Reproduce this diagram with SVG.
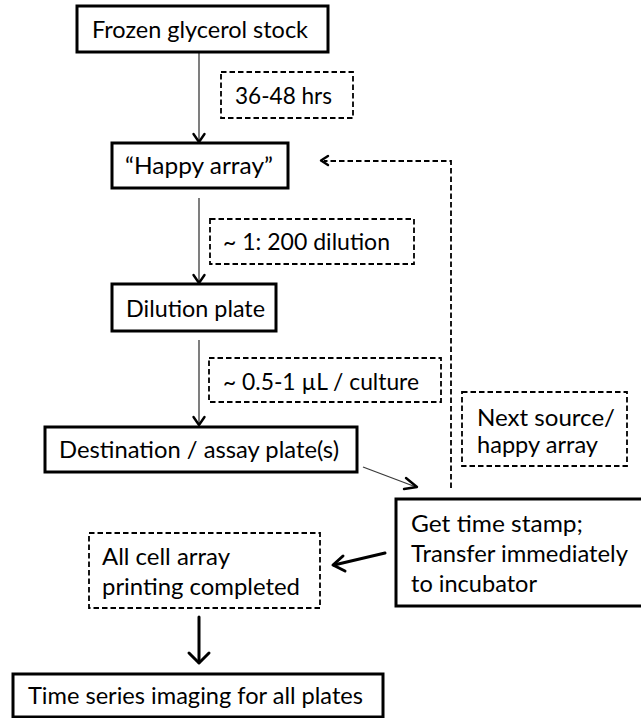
<svg xmlns="http://www.w3.org/2000/svg" width="641" height="718" viewBox="0 0 641 718">
<style>
.box{fill:#fff;stroke:#000;stroke-width:3}
.dbox{fill:#fff;stroke:#000;stroke-width:1.8;stroke-dasharray:5.5 3}
.t{font-family:Lato,"Open Sans","Liberation Sans",sans-serif;font-size:22.5px;fill:#000}
.ln{fill:none;stroke:#3a3a3a;stroke-width:1.3}
.hd{fill:none;stroke:#000;stroke-width:2.4;stroke-linecap:round;stroke-linejoin:round}
.thk{fill:none;stroke:#000;stroke-width:3;stroke-linecap:round;stroke-linejoin:round}
.dl{fill:none;stroke:#000;stroke-width:1.8;stroke-dasharray:5.5 3}
</style>
<rect width="641" height="718" fill="#fff"/>
<g id="connectors">
  <line class="ln" x1="199" y1="52" x2="199" y2="141"/>
  <polyline class="hd" points="193.5,134 199,142 204.5,134"/>
  <line class="ln" x1="199" y1="198" x2="199" y2="282"/>
  <polyline class="hd" points="193.5,275 199,283 204.5,275"/>
  <line class="ln" x1="199" y1="340" x2="199" y2="424"/>
  <polyline class="hd" points="193.5,417 199,425 204.5,417"/>
  <line class="ln" x1="363" y1="467" x2="416" y2="487"/>
  <polyline class="hd" points="406,478 417,487 404,489"/>
  <path class="dl" d="M451,488 V161 H324"/>
  <polyline class="hd" points="328,156 321,160.5 328,165"/>
  <line class="thk" x1="385" y1="553" x2="334" y2="565"/>
  <polyline class="thk" points="343,556 333,565 345,571"/>
  <line class="thk" x1="199" y1="617" x2="199" y2="662"/>
  <polyline class="thk" points="189,653 199,663 209,653"/>
</g>
<g id="n-frozen">
  <rect class="box" x="77" y="6" width="251" height="46"/>
  <text class="t" x="92" y="38" textLength="216" lengthAdjust="spacingAndGlyphs">Frozen glycerol stock</text>
</g>
<g id="n-36-48">
  <rect class="dbox" x="221" y="72" width="132" height="46"/>
  <text class="t" x="235" y="104" textLength="97" lengthAdjust="spacingAndGlyphs">36-48 hrs</text>
</g>
<g id="n-happy">
  <rect class="box" x="112" y="143" width="176" height="45"/>
  <text class="t" x="125" y="174" textLength="148" lengthAdjust="spacingAndGlyphs">“Happy array”</text>
</g>
<g id="n-dil-label">
  <rect class="dbox" x="210" y="219" width="204" height="45"/>
  <text class="t" x="223" y="250" textLength="167" lengthAdjust="spacingAndGlyphs">~ 1: 200 dilution</text>
</g>
<g id="n-dilution">
  <rect class="box" x="112" y="284" width="164" height="47"/>
  <text class="t" x="126" y="317" textLength="139" lengthAdjust="spacingAndGlyphs">Dilution plate</text>
</g>
<g id="n-vol-label">
  <rect class="dbox" x="209" y="358" width="232" height="44"/>
  <text class="t" x="223" y="390" textLength="196" lengthAdjust="spacingAndGlyphs">~ 0.5-1 µL / culture</text>
</g>
<g id="n-dest">
  <rect class="box" x="45" y="427" width="312" height="45"/>
  <text class="t" x="59" y="458" textLength="280" lengthAdjust="spacingAndGlyphs">Destination / assay plate(s)</text>
</g>
<g id="n-next">
  <rect class="dbox" x="462" y="392" width="165" height="74"/>
  <text class="t" x="477" y="426" textLength="138" lengthAdjust="spacingAndGlyphs">Next source/</text>
  <text class="t" x="477" y="453" textLength="121" lengthAdjust="spacingAndGlyphs">happy array</text>
</g>
<g id="n-timestamp">
  <rect class="box" x="396" y="499" width="250" height="107"/>
  <text class="t" x="411" y="532" textLength="172" lengthAdjust="spacingAndGlyphs">Get time stamp;</text>
  <text class="t" x="411" y="562" textLength="217" lengthAdjust="spacingAndGlyphs">Transfer immediately</text>
  <text class="t" x="411" y="592" textLength="126" lengthAdjust="spacingAndGlyphs">to incubator</text>
</g>
<g id="n-allcell">
  <rect class="dbox" x="89" y="533" width="231" height="75"/>
  <text class="t" x="102" y="565" textLength="128" lengthAdjust="spacingAndGlyphs">All cell array</text>
  <text class="t" x="102" y="595" textLength="198" lengthAdjust="spacingAndGlyphs">printing completed</text>
</g>
<g id="n-timeseries">
  <rect class="box" x="13" y="674" width="370" height="43"/>
  <text class="t" x="28" y="704" textLength="335" lengthAdjust="spacingAndGlyphs">Time series imaging for all plates</text>
</g>
</svg>
